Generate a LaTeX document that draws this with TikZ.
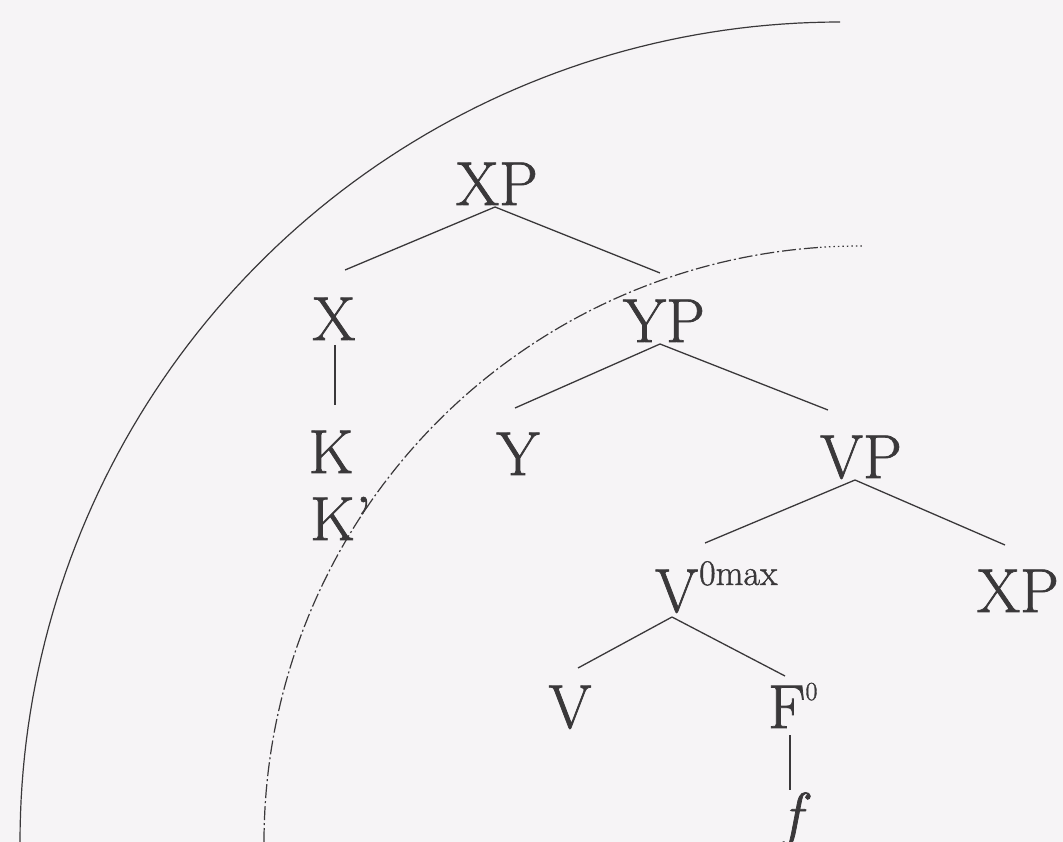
\documentclass[tikz,border=0pt]{standalone}
\usepackage{fontspec}
\newfontfamily\heavy{Latin Modern Roman}[FakeBold=1.2]
\begin{document}
\definecolor{bg}{HTML}{F6F4F6}
\definecolor{ink}{HTML}{3A383A}
\begin{tikzpicture}[x=1pt,y=-1pt,
  lab/.style={inner sep=0pt, text=ink, font=\heavy\fontsize{62}{62}\selectfont},
  edge/.style={draw=ink, line width=1.3pt},
  arcline/.style={draw=ink, line width=1.2pt}]
\useasboundingbox (0,0) rectangle (1063,842);
\fill[bg] (0,0) rectangle (1063,842);
% arcs
\draw[arcline] plot[domain=90:180, samples=90] ({840+820*cos(\x)}, {842-820*sin(\x)});
\draw[arcline, dash pattern=on 14pt off 3pt on 2pt off 3pt] plot[domain=180:93.85, samples=90] ({860+596*cos(\x)}, {842-596*sin(\x)});
\draw[arcline, dash pattern=on 1.5pt off 3pt] plot[domain=93.85:89.8, samples=10] ({860+596*cos(\x)}, {842-596*sin(\x)});
% nodes
\node[lab, anchor=base] (XP1) at (497,205) {XP};
\node[lab, anchor=base] (X) at (334,340) {X};
\node[lab, anchor=base] (YP) at (664,342) {YP};
\node[lab, anchor=base] (K) at (331,473) {K};
\node[lab, anchor=base west] (Kp) at (310,540) {K\kern1pt\textquoteright};
\node[lab, anchor=base] (Y) at (518,475) {Y};
\node[lab, anchor=base] (VP) at (861,478) {VP};
\node[lab, anchor=base west] (V0) at (655,612) {V\kern1pt\raisebox{27pt}{\fontsize{36}{36}\selectfont 0max}};
\node[lab, anchor=base] (XP2) at (1018,612) {XP};
\node[lab, anchor=base] (V) at (570,728) {V};
\node[lab, anchor=base west] (F0) at (768,728) {F\raisebox{28pt}{\fontsize{26}{26}\selectfont 0}};
\node[lab, anchor=base] (f) at (792,836) {\itshape f};
% edges
\draw[edge] ([shift={(-2,2)}]XP1.base) -- ([shift={(11,-70)}]X.base);
\draw[edge] ([shift={(-2,2)}]XP1.base) -- ([shift={(-4,-69)}]YP.base);
\draw[edge] ([shift={(1,5)}]X.base) -- ([shift={(4,-68)}]K.base);
\draw[edge] ([shift={(-4,2)}]YP.base) -- ([shift={(-3,-67)}]Y.base);
\draw[edge] ([shift={(-4,2)}]YP.base) -- ([shift={(-33,-68)}]VP.base);
\draw[edge] ([shift={(-6,2)}]VP.base) -- ([shift={(50,-69)}]V0.base west);
\draw[edge] ([shift={(-6,2)}]VP.base) -- ([shift={(-13,-67)}]XP2.base);
\draw[edge] ([shift={(17,5)}]V0.base west) -- ([shift={(8,-60)}]V.base);
\draw[edge] ([shift={(17,5)}]V0.base west) -- ([shift={(17,-52)}]F0.base west);
\draw[edge] ([shift={(22,7)}]F0.base west) -- ([shift={(-2,-46)}]f.base);
\end{tikzpicture}
\end{document}
